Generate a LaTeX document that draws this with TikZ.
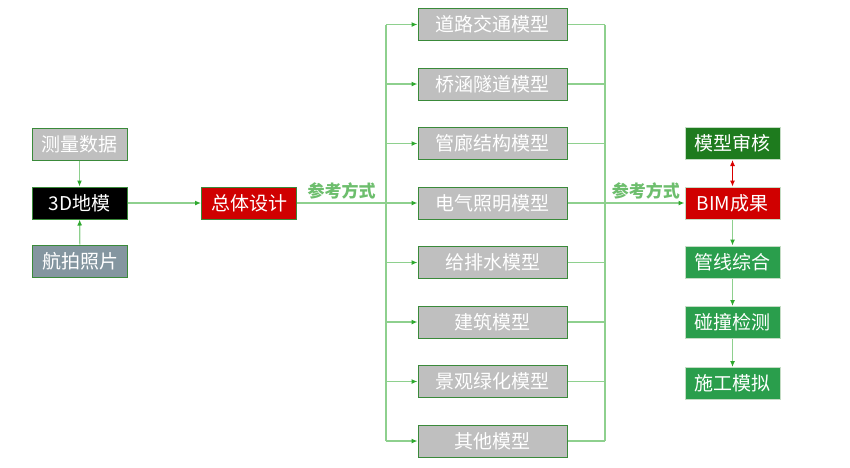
\documentclass[tikz,border=0pt]{standalone}
\usepackage{fontspec}
\setmainfont{Noto Sans CJK SC}
\usetikzlibrary{arrows.meta}
\definecolor{bordergreen}{HTML}{3A8A3A}
\definecolor{linegreen}{HTML}{8ED08E}
\definecolor{arrgreen}{HTML}{2EA82E}
\definecolor{boxgray}{HTML}{BFBFBF}
\definecolor{slate}{HTML}{8496A0}
\definecolor{redbox}{HTML}{D00000}
\definecolor{darkgreen}{HTML}{1E7B1E}
\definecolor{midgreen}{HTML}{2A9E4C}
\definecolor{labelgreen}{HTML}{6DBE6D}
\begin{document}
\begin{tikzpicture}[x=1pt,y=-1pt,
  box/.style={draw=bordergreen, line width=1pt, minimum height=32pt, inner sep=0pt, text=white, font=\fontsize{19}{19}\selectfont},
  lbox/.style={box, minimum width=95pt},
  mbox/.style={box, minimum width=149pt, fill=boxgray},
  rbox/.style={box, minimum width=95pt, draw=white!70!bordergreen},
  conn/.style={draw=linegreen, line width=1.2pt},
  arr/.style={conn, -{Latex[length=6pt,width=5pt,color=arrgreen]}},
  lab/.style={text=labelgreen, font=\fontsize{17}{17}\selectfont\bfseries}
]
\useasboundingbox (0,0) rectangle (850,467);
% left
\node[lbox, fill=boxgray] (cl) at (79.5,144) {测量数据};
\node[lbox, fill=black] (dm) at (79.5,203) {3D地模};
\node[lbox, fill=slate] (hp) at (80,261) {航拍照片};
\node[lbox, fill=redbox] (zt) at (249,203) {总体设计};
\draw[arr] (cl) -- (dm);
\draw[arr] (hp) -- (dm);
\draw[arr] (dm) -- (zt);
% middle
\foreach \n/\t/\y in {m1/道路交通模型/24.5, m2/桥涵隧道模型/84, m3/管廊结构模型/143.5, m4/电气照明模型/203, m5/给排水模型/262.5, m6/建筑模型/322, m7/景观绿化模型/381.5, m8/其他模型/441}{
  \node[mbox] (\n) at (492.5,\y) {\t};
}
\coordinate (lt) at (386,24.5);
\coordinate (lb) at (386,441);
\coordinate (rt) at (605,24.5);
\coordinate (rb) at (605,441);
\draw[conn] (lt) -- (lb);
\draw[conn] (rt) -- (rb);
\foreach \n in {m1,m2,m3,m5,m6,m7,m8}{
  \draw[arr] (386,0 |- \n.west) -- (\n.west);
  \draw[conn] (\n.east) -- (605,0 |- \n.east);
}
\draw[arr] (zt) -- node[lab, above, pos=0.37, yshift=0pt] (l1) {参考方式} (m4);
% right
\node[rbox, fill=darkgreen] (sh) at (732.5,143.5) {模型审核};
\node[rbox, fill=redbox] (bim) at (732.5,203) {BIM成果};
\node[rbox, fill=midgreen] (gx) at (732.5,262) {管线综合};
\node[rbox, fill=midgreen] (pz) at (732.5,322.5) {碰撞检测};
\node[rbox, fill=midgreen] (sg) at (732.5,383.5) {施工模拟};
\draw[arr] (m4) -- node[lab, above, pos=0.67, yshift=0pt] (l2) {参考方式} (bim);
\draw[red!85!black, line width=1pt, {Latex[length=6pt,width=5pt]}-{Latex[length=6pt,width=5pt]}] (sh) -- (bim);
\draw[arr] (bim) -- (gx);
\draw[arr] (gx) -- (pz);
\draw[arr] (pz) -- (sg);
\end{tikzpicture}
\end{document}
